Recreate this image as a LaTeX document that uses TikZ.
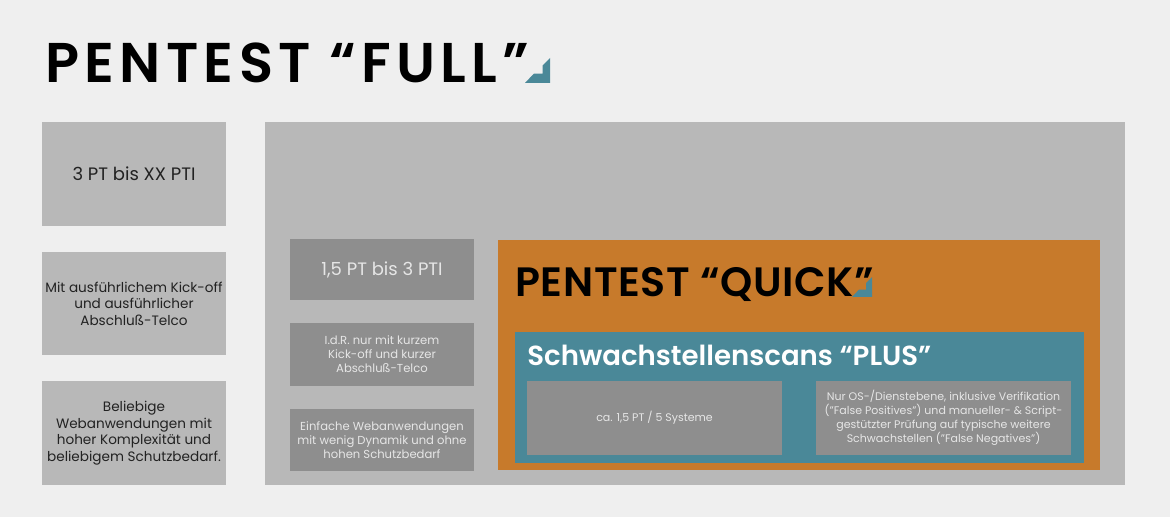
\documentclass[tikz,border=0pt]{standalone}
\usepackage{fontspec}
\setmainfont{Poppins}[BoldFont={Poppins SemiBold}]
\newfontfamily\headfont{Poppins SemiBold}[LetterSpace=9.5]
\newfontfamily\subheadfont{Poppins SemiBold}[LetterSpace=1.5]
\definecolor{bggray}{HTML}{EFEFEF}
\definecolor{boxlight}{HTML}{B8B8B8}
\definecolor{boxdark}{HTML}{8E8E8E}
\definecolor{quickorange}{HTML}{C77A2B}
\definecolor{plusteal}{HTML}{4A8898}
\definecolor{markteal}{HTML}{4A8898}
\definecolor{textdark}{HTML}{222222}
\definecolor{textlight}{HTML}{E6E6E6}

\begin{document}
\begin{tikzpicture}[x=0.5pt, y=-0.5pt,
  every node/.style={inner sep=0pt, align=center},
  lightbox/.style={fill=boxlight, text=textdark, minimum width=92pt},
  darkbox/.style={fill=boxdark, text=textlight, minimum width=92pt},
  scanbox/.style={fill=boxdark, text=textlight, minimum width=127.5pt, minimum height=37pt},
  cornermark/.pic={\fill[markteal] (0,0) -- (1,0) -- (1,-1) -- (0.7,-0.69) -- (0.7,-0.37) -- (0.35,-0.37) -- cycle;}]
    % Canvas
    \fill[bggray] (0,0) rectangle (1170,517);
    \useasboundingbox (0,0) rectangle (1170,517);

    % Title
    \node[anchor=base west, font=\fontsize{28}{30}\headfont] (full) at (45,83) {PENTEST “FULL”};
    \pic[scale=25] at (525,83) {cornermark};

    % Left column (Full)
    \node[lightbox, minimum height=52pt, font=\fontsize{9}{11}\selectfont] (fullpt) at (134,174) {3 PT bis XX PTI};
    \node[lightbox, minimum height=51.5pt, font=\fontsize{6.8}{8.3}\selectfont] (fullkick) at (134,303.5)
        {Mit ausführlichem Kick-off\\und ausführlicher\\Abschluß-Telco};
    \node[lightbox, minimum height=52pt, font=\fontsize{6.8}{8.3}\selectfont] (fullweb) at (134,433)
        {Beliebige\\Webanwendungen mit\\hoher Komplexität und\\beliebigem Schutzbedarf.};

    % Big area
    \node[fill=boxlight, minimum width=430pt, minimum height=181.5pt] (area) at (695,303.5) {};

    % Middle column
    \node[darkbox, minimum height=30.5pt, font=\fontsize{9}{11}\selectfont] (midpt) at (382,269.5) {1,5 PT bis 3 PTI};
    \node[darkbox, minimum height=31.5pt, font=\fontsize{5.8}{7}\selectfont] (midkick) at (382,354.5)
        {I.d.R. nur mit kurzem\\Kick-off und kurzer\\Abschluß-Telco};
    \node[darkbox, minimum height=31pt, font=\fontsize{5.8}{7}\selectfont] (midweb) at (382,440)
        {Einfache Webanwendungen\\mit wenig Dynamik und ohne\\hohen Schutzbedarf};

    % Pentest Quick
    \node[fill=quickorange, minimum width=301pt, minimum height=115pt] (quick) at (799,355) {};
    \node[anchor=base west, font=\fontsize{20.5}{22}\subheadfont] (quicktitle) at (515,297) {PENTEST “QUICK”};
    \pic[scale=20] at (852,297) {cornermark};

    % Schwachstellenscans Plus
    \node[fill=plusteal, minimum width=284.5pt, minimum height=65.5pt] (plus) at (799.5,397.5) {};
    \node[anchor=base west, text=white, font=\fontsize{13.8}{16}\selectfont\bfseries] (plustitle) at (527,365) {Schwachstellenscans “PLUS”};
    \node[scanbox, font=\fontsize{5.5}{7}\selectfont] (scanpt) at (654.5,418) {ca. 1,5 PT / 5 Systeme};
    \node[scanbox, font=\fontsize{5.5}{7}\selectfont] (scanscope) at (943.5,418)
        {Nur OS-/Dienstebene, inklusive Verifikation\\("False Positives") und manueller- \& Script-\\gestützter Prüfung auf typische weitere\\Schwachstellen ("False Negatives")};
\end{tikzpicture}
\end{document}
